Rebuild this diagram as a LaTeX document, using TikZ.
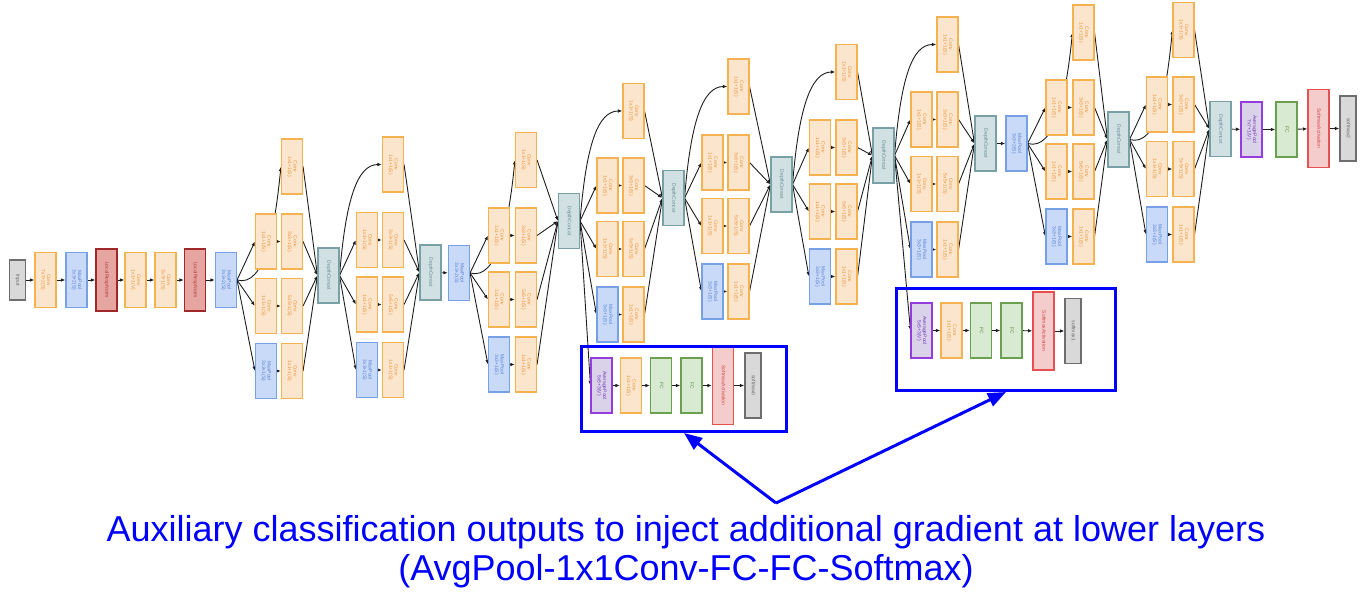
\documentclass[tikz,border=0pt]{standalone}
\usepackage{fontspec}
\setmainfont{Liberation Sans}
\usepackage{graphicx}
\usetikzlibrary{arrows.meta,backgrounds}

\definecolor{convfill}{RGB}{252,229,205}
\definecolor{convline}{RGB}{246,178,80}
\definecolor{convtext}{RGB}{230,150,60}
\definecolor{poolfill}{RGB}{201,218,248}
\definecolor{poolline}{RGB}{120,160,230}
\definecolor{pooltext}{RGB}{90,130,210}
\definecolor{lrnfill}{RGB}{230,165,160}
\definecolor{lrnline}{RGB}{160,40,40}
\definecolor{lrntext}{RGB}{180,60,60}
\definecolor{catfill}{RGB}{208,224,227}
\definecolor{catline}{RGB}{120,160,165}
\definecolor{cattext}{RGB}{100,140,145}
\definecolor{grayfill}{RGB}{217,217,217}
\definecolor{grayline}{RGB}{110,110,110}
\definecolor{graytext}{RGB}{100,100,100}
\definecolor{avgfill}{RGB}{217,210,233}
\definecolor{avgline}{RGB}{150,60,220}
\definecolor{avgtext}{RGB}{120,60,190}
\definecolor{fcfill}{RGB}{217,234,211}
\definecolor{fcline}{RGB}{106,160,80}
\definecolor{fctext}{RGB}{90,140,70}
\definecolor{smafill}{RGB}{244,204,204}
\definecolor{smaline}{RGB}{230,80,80}
\definecolor{smatext}{RGB}{210,70,70}
\definecolor{wirecol}{RGB}{30,30,30}
\definecolor{auxblue}{RGB}{0,0,255}

% rotated box text
\newcommand{\vt}[1]{\rotatebox{-90}{\begin{tabular}{@{}c@{}}#1\end{tabular}}}

% one inception module: name, col1 x, col2 x, top y, row1 y, row2 y, row3 y
\newcommand{\incep}[7]{%
  \node[conv] (#1-t) at (#3,#4) {\vt{Conv\\1x1+1(S)}};
  \node[conv] (#1-a1) at (#2,#5) {\vt{Conv\\1x1+1(S)}};
  \node[conv] (#1-a2) at (#3,#5) {\vt{Conv\\3x3+1(S)}};
  \node[conv] (#1-b1) at (#2,#6) {\vt{Conv\\1x1+1(S)}};
  \node[conv] (#1-b2) at (#3,#6) {\vt{Conv\\5x5+1(S)}};
  \node[pool] (#1-c1) at (#2,#7) {\vt{MaxPool\\3x3+1(S)}};
  \node[conv] (#1-c2) at (#3,#7) {\vt{Conv\\1x1+1(S)}};
}

% wires of one module: name, source, controls of the 1x1 branch
\newcommand{\incwires}[3]{%
  \draw[wire] (#2.east) -- (#1-a1.west);
  \draw[wire] (#2.east) -- (#1-b1.west);
  \draw[wire] (#2.east) -- (#1-c1.west);
  \draw[wire] (#2.east) .. controls #3 .. (#1-t.west);
  \draw[wire] (#1-a1) -- (#1-a2);
  \draw[wire] (#1-b1) -- (#1-b2);
  \draw[wire] (#1-c1) -- (#1-c2);
  \foreach \b in {t,a2,b2,c2} \draw[wire] (#1-\b.east) -- (#1-dc.west);
}

\tikzset{
  blk/.style={draw, line width=1.1pt, minimum width=21pt, minimum height=55pt,
    inner sep=0pt, font=\fontsize{5}{5.6}\selectfont},
  conv/.style={blk, draw=convline, fill=convfill, text=convtext},
  pool/.style={blk, draw=poolline, fill=poolfill, text=pooltext},
  lrn/.style={blk, draw=lrnline, fill=lrnfill, text=lrntext, minimum height=62pt},
  concat/.style={blk, draw=catline, fill=catfill, text=cattext},
  inp/.style={blk, draw=grayline, fill=grayfill, text=graytext, minimum width=16pt, minimum height=40pt},
  smout/.style={blk, draw=grayline, fill=grayfill, text=graytext, minimum width=16pt, minimum height=65pt},
  avg/.style={blk, draw=avgline, fill=avgfill, text=avgtext},
  fc/.style={blk, draw=fcline, fill=fcfill, text=fctext},
  smact/.style={blk, draw=smaline, fill=smafill, text=smatext, minimum height=78pt},
  wire/.style={draw=wirecol, line width=0.9pt, -{Latex[length=4.5pt,width=3.5pt]}},
  auxbox/.style={draw=auxblue, line width=3pt, inner sep=0pt},
  callout/.style={draw=auxblue, line width=3pt, -{Triangle[length=18pt,width=14pt]}},
  caption/.style={text=auxblue, font=\fontsize{36}{40}\selectfont, anchor=base}
}

\begin{document}
\begin{tikzpicture}[x=1pt,y=-1pt]
\useasboundingbox (0,0) rectangle (1369,603);

% stem
\node[inp] (input) at (17.5,280) {\vt{Input}};
\node[conv] (conv1) at (45.5,280) {\vt{Conv\\7x7+2(S)}};
\node[pool] (pool1) at (76.5,280) {\vt{MaxPool\\3x3+2(S)}};
\node[lrn] (norm1) at (106.5,280) {\vt{LocalRespNorm}};
\node[conv] (conv2a) at (135.5,280) {\vt{Conv\\1x1+1(V)}};
\node[conv] (conv2b) at (165.5,280) {\vt{Conv\\3x3+1(S)}};
\node[lrn] (norm2) at (195,280) {\vt{LocalRespNorm}};
\node[pool] (pool2) at (226,280) {\vt{MaxPool\\3x3+2(S)}};

% inception 3
\incep{i3a}{266}{292}{166.5}{241.5}{306}{371}
\node[concat] (i3a-dc) at (328.5,275.5) {\vt{DepthConcat}};
\incep{i3b}{367}{393}{164.5}{240}{304.5}{370}
\node[concat] (i3b-dc) at (430.5,272.5) {\vt{DepthConcat}};
\node[pool] (pool3) at (459,273) {\vt{MaxPool\\3x3+2(S)}};

% inception 4
\incep{i4a}{499}{526}{160}{235.5}{299.5}{364.5}
\node[concat] (i4a-dc) at (569,221) {\vt{DepthConcat}};
\incep{i4b}{607.5}{633.5}{111}{185.5}{249}{314.5}
\node[concat] (i4b-dc) at (673.5,198) {\vt{DepthConcat}};
\incep{i4c}{712.5}{738.5}{86.5}{162.5}{226}{291.5}
\node[concat] (i4c-dc) at (781.5,184.5) {\vt{DepthConcat}};
\incep{i4d}{820}{846.5}{72}{147.5}{211.5}{276.5}
\node[concat] (i4d-dc) at (883.5,155.5) {\vt{DepthConcat}};
\incep{i4e}{921.5}{947.5}{44.5}{119.5}{184}{249.5}
\node[concat] (i4e-dc) at (985.5,143.5) {\vt{DepthConcat}};
\node[pool] (pool4) at (1016.5,143.5) {\vt{MaxPool\\3x3+2(S)}};

% inception 5
\incep{i5a}{1056.5}{1083.5}{32.5}{107.5}{171.5}{236.5}
\node[concat] (i5a-dc) at (1118.5,139.5) {\vt{DepthConcat}};
\incep{i5b}{1157}{1183.5}{30}{104.5}{169}{234.5}
\node[concat] (i5b-dc) at (1220.5,129) {\vt{DepthConcat}};

% head
\node[avg] (pool5) at (1251.5,129.5) {\vt{AveragePool\\7x7+1(V)}};
\node[fc] (fc) at (1286.5,129.5) {\vt{FC}};
\node[smact] (act2) at (1318.5,128.5) {\vt{SoftmaxActivation}};
\node[smout] (out2) at (1348,128.5) {\vt{softmax2}};

% auxiliary classifiers
\node[avg] (aux1-pool) at (601.5,385.5) {\vt{AveragePool\\5x5+3(V)}};
\node[conv] (aux1-conv) at (631,385.5) {\vt{Conv\\1x1+1(S)}};
\node[fc] (aux1-fc1) at (661,385.5) {\vt{FC}};
\node[fc] (aux1-fc2) at (691.5,385.5) {\vt{FC}};
\node[smact] (aux1-act) at (723,385.5) {\vt{SoftmaxActivation}};
\node[smout] (aux1-out) at (753,385.5) {\vt{softmax0}};
\node[auxbox, minimum width=205pt, minimum height=85pt] (aux1-box) at (684,389) {};

\node[avg] (aux2-pool) at (921.5,330.5) {\vt{AveragePool\\5x5+3(V)}};
\node[conv] (aux2-conv) at (951.5,330.5) {\vt{Conv\\1x1+1(S)}};
\node[fc] (aux2-fc1) at (981,330.5) {\vt{FC}};
\node[fc] (aux2-fc2) at (1011.5,330.5) {\vt{FC}};
\node[smact] (aux2-act) at (1043.5,331) {\vt{SoftmaxActivation}};
\node[smout] (aux2-out) at (1073,331) {\vt{softmax1}};
\node[auxbox, minimum width=219pt, minimum height=102pt] (aux2-box) at (1006,339.5) {};

% caption
\node[caption] (cap1) at (686,541) {Auxiliary classification outputs to inject additional gradient at lower layers};
\node[caption] (cap2) at (686,580) {(AvgPool-1x1Conv-FC-FC-Softmax)};
\coordinate (fork) at (776,503);
\draw[callout] (fork) -- (aux1-box.south);
\draw[callout] (fork) -- (aux2-box.south);

\begin{scope}[on background layer]
  \draw[wire] (input) -- (conv1);
  \draw[wire] (conv1) -- (pool1);
  \draw[wire] (pool1) -- (norm1);
  \draw[wire] (norm1) -- (conv2a);
  \draw[wire] (conv2a) -- (conv2b);
  \draw[wire] (conv2b) -- (norm2);
  \draw[wire] (norm2) -- (pool2);
  \incwires{i3a}{pool2}{+(28,8) and +(-6,60)}
  \incwires{i3b}{i3a-dc}{+(6,-75) and +(-25,0)}
  \draw[wire] (i3b-dc) -- (pool3);
  \incwires{i4a}{pool3}{+(28,8) and +(-6,60)}
  \incwires{i4b}{i4a-dc}{+(6,-75) and +(-25,0)}
  \incwires{i4c}{i4b-dc}{+(6,-75) and +(-25,0)}
  \incwires{i4d}{i4c-dc}{+(6,-75) and +(-25,0)}
  \incwires{i4e}{i4d-dc}{+(6,-75) and +(-25,0)}
  \draw[wire] (i4e-dc) -- (pool4);
  \incwires{i5a}{pool4}{+(28,8) and +(-6,60)}
  \incwires{i5b}{i5a-dc}{+(28,8) and +(-6,60)}
  \draw[wire] (i5b-dc) -- (pool5);
  \draw[wire] (pool5) -- (fc);
  \draw[wire] (fc) -- (act2);
  \draw[wire] (act2) -- (out2);
  % side outputs
  \draw[wire] (i4a-dc.east) -- (aux1-pool.west);
  \draw[wire] (aux1-pool) -- (aux1-conv);
  \draw[wire] (aux1-conv) -- (aux1-fc1);
  \draw[wire] (aux1-fc1) -- (aux1-fc2);
  \draw[wire] (aux1-fc2) -- (aux1-act);
  \draw[wire] (aux1-act) -- (aux1-out);
  \draw[wire] (i4d-dc.east) -- (aux2-pool.west);
  \draw[wire] (aux2-pool) -- (aux2-conv);
  \draw[wire] (aux2-conv) -- (aux2-fc1);
  \draw[wire] (aux2-fc1) -- (aux2-fc2);
  \draw[wire] (aux2-fc2) -- (aux2-act);
  \draw[wire] (aux2-act) -- (aux2-out);
\end{scope}
\end{tikzpicture}
\end{document}
